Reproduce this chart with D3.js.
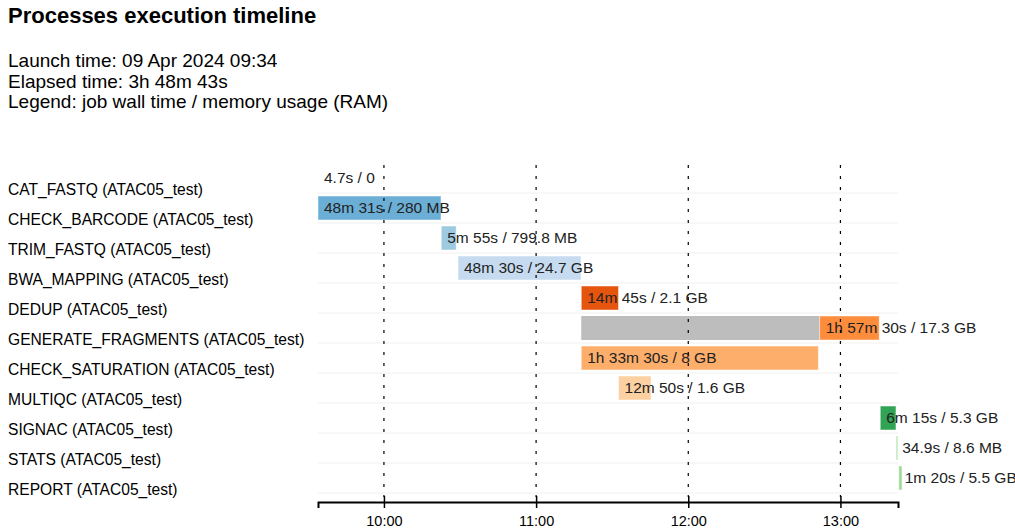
<!DOCTYPE html>
<html><head><meta charset="utf-8">
<script src="https://cdn.jsdelivr.net/npm/d3@7"></script>
<style>
body{margin:0;background:#fff;font-family:"Liberation Sans",Arial,sans-serif}
</style></head>
<body>
<script>
// minutes since launch (09:34)
let processes = ["CAT_FASTQ (ATAC05_test)","CHECK_BARCODE (ATAC05_test)","TRIM_FASTQ (ATAC05_test)","BWA_MAPPING (ATAC05_test)","DEDUP (ATAC05_test)","GENERATE_FRAGMENTS (ATAC05_test)","CHECK_SATURATION (ATAC05_test)","MULTIQC (ATAC05_test)","SIGNAC (ATAC05_test)","STATS (ATAC05_test)","REPORT (ATAC05_test)"]
let submitted = [0, 0, 48.6, 55.2, 103.8, 103.8, 103.8, 118.5, 221.7, 228.0, 229.0]
let started   = [0, 0, 48.6, 55.2, 103.8, 197.8, 103.8, 118.5, 221.7, 228.0, 229.0]
let completed = [0.08, 48.5, 54.5, 103.7, 118.5, 221.3, 197.3, 131.3, 227.9, 228.6, 230.3]
let labels = ["4.7s / 0","48m 31s / 280 MB","5m 55s / 799.8 MB","48m 30s / 24.7 GB","14m 45s / 2.1 GB","1h 57m 30s / 17.3 GB","1h 33m 30s / 8 GB","12m 50s / 1.6 GB","6m 15s / 5.3 GB","34.9s / 8.6 MB","1m 20s / 5.5 GB"]
let colors = ["none","#6baed6","#9ecae1","#c6dbef","#e6550d","#fd8d3c","#fdae6b","#fdd0a2","#31a354","#a1d99b","#a1d99b"]
let tickLabels = ["10:00","11:00","12:00","13:00"]
let tickMinutes = [26, 86, 146, 206]
let elapsed = 228.7

let w = 1015, h = 530
let svg = d3.select("body").append("svg").attr("width", w).attr("height", h)

svg.append("text").text("Processes execution timeline").attr("x", 8).attr("y", 23)
  .style("font-size", "22px").style("font-weight", "bold")
let info = ["Launch time: 09 Apr 2024 09:34","Elapsed time: 3h 48m 43s","Legend: job wall time / memory usage (RAM)"]
info.forEach((t, i) => svg.append("text").text(t).attr("x", 8).attr("y", 67 + i * 20.5).style("font-size", "19px"))

let x = d3.scaleLinear().domain([0, elapsed]).range([318, 898])
let y = d3.scaleBand().domain(processes).range([163, 493])

// row separators
svg.selectAll(".sep").data(processes).enter().append("line")
  .attr("x1", 318).attr("x2", 898)
  .attr("y1", d => y(d) + y.bandwidth()).attr("y2", d => y(d) + y.bandwidth())
  .attr("stroke", "#f0f0f0")

// process names
svg.selectAll(".name").data(processes).enter().append("text")
  .text(d => d).attr("x", 8).attr("y", d => y(d) + y.bandwidth() - 2)
  .style("font-size", "15.6px").attr("dominant-baseline", "middle")

let rows = processes.map((p, i) => ({p, i}))
// pending part
svg.selectAll(".pend").data(rows).enter().append("rect")
  .attr("x", d => x(submitted[d.i])).attr("y", d => y(d.p) + 3)
  .attr("width", d => Math.max(0, x(started[d.i]) - x(submitted[d.i])))
  .attr("height", y.bandwidth() - 6).attr("fill", "#bdbdbd")
// running part
svg.selectAll(".run").data(rows).enter().append("rect")
  .attr("x", d => x(started[d.i])).attr("y", d => y(d.p) + 3)
  .attr("width", d => Math.max(1.5, x(completed[d.i]) - x(started[d.i])))
  .attr("height", y.bandwidth() - 6).attr("fill", d => colors[d.i])
  .attr("stroke", d => d.i == 0 ? "none" : "#fff").attr("stroke-opacity", 0.5)

svg.selectAll(".lab").data(rows).enter().append("text")
  .text(d => labels[d.i]).attr("x", d => x(started[d.i]) + 6)
  .attr("y", d => y(d.p) + y.bandwidth() / 2 + 1).attr("dominant-baseline", "middle")
  .style("font-size", "15.5px").attr("fill", "#222")

// grid
svg.selectAll(".grid").data(tickMinutes).enter().append("line")
  .attr("x1", d => x(d)).attr("x2", d => x(d)).attr("y1", 165).attr("y2", 497)
  .attr("stroke", "#000").attr("stroke-dasharray", "3,8").attr("stroke-width", 1.2)

let axis = d3.axisBottom(x).tickValues(tickMinutes).tickFormat((d, i) => tickLabels[i]).tickSizeOuter(-6).tickSize(6)
let g = svg.append("g").attr("transform", "translate(0,502)").call(axis)
g.select(".domain").attr("stroke-width", 2)
g.selectAll(".tick line").attr("y1", -6).attr("stroke-width", 1.5)
g.selectAll("text").style("font-size", "14.5px").style("font-family", "Liberation Sans, Arial").attr("dy", "1em")
</script>
</body></html>
